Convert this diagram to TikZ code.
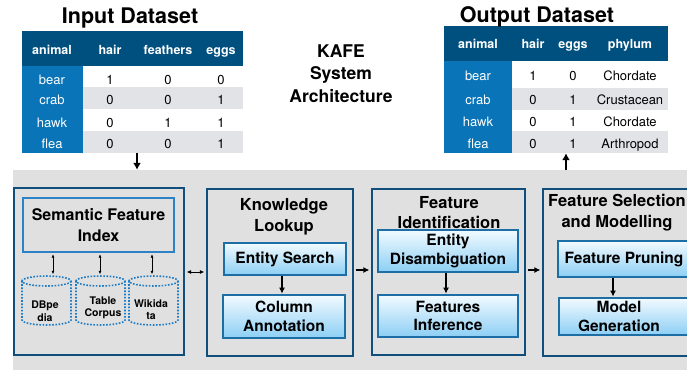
\documentclass[tikz,border=0pt]{standalone}
\usepackage{fontspec}
\setmainfont{TeX Gyre Heros}
\usetikzlibrary{arrows.meta,calc}
\definecolor{hdr}{HTML}{00507F}
\definecolor{lcol}{HTML}{0A74B8}
\definecolor{rowg}{HTML}{E2E3E7}
\definecolor{bgg}{HTML}{E0E0E0}
\definecolor{outb}{HTML}{0F4E7D}
\definecolor{inb}{HTML}{1E6EA6}
\definecolor{sfib}{HTML}{2C82C4}
\definecolor{cylb}{HTML}{1C7BC4}
\definecolor{gtop}{HTML}{F2FAFF}
\definecolor{gbot}{HTML}{8CCFF4}
\begin{document}
\begin{tikzpicture}[x=1pt,y=-1pt,
  ttl/.style={font=\fontsize{21.5}{24}\selectfont\bfseries, inner sep=0, anchor=base},
  hd/.style={font=\fontsize{12.5}{14}\selectfont\bfseries, text=white, inner sep=0, anchor=base},
  lc/.style={font=\fontsize{13}{15}\selectfont, text=white, inner sep=0, anchor=base},
  cell/.style={font=\fontsize{13}{15}\selectfont, inner sep=0, anchor=base},
  outerbox/.style={draw=outb, line width=2.6pt, inner sep=0},
  btitle/.style={font=\fontsize{16.5}{20.5}\selectfont\bfseries, align=center, inner sep=0},
  innerbox/.style={draw=inb, line width=1.3pt, top color=gtop, bottom color=gbot,
     font=\fontsize{15.5}{18.5}\selectfont\bfseries, align=center, inner sep=0},
  cylline/.style={draw=cylb, line width=1.6pt, dash pattern=on 1.6pt off 1.6pt},
  cyltext/.style={font=\fontsize{10.5}{12.5}\selectfont\bfseries, align=center, inner sep=0},
  bigarrow/.style={line width=1.8pt, -{Latex[length=6pt,width=6pt]}},
  tabarrow/.style={line width=1.6pt, -{Latex[length=7pt,width=8pt]}},
  smallboth/.style={line width=0.9pt, {Latex[length=3.5pt,width=3pt]}-{Latex[length=3.5pt,width=3pt]}},
  midboth/.style={line width=1pt, {Latex[length=4.5pt,width=4pt]}-{Latex[length=4.5pt,width=4pt]}}
]
\useasboundingbox (0,0) rectangle (687,369);
\clip (0,0) rectangle (687,369);
\fill[white] (0,0) rectangle (687,369);

% ---------- background ----------
\node[fill=bgg, inner sep=0, minimum width=690, minimum height=202] (bg) at (358,271) {};

% ---------- input table ----------
\node[inner sep=0, minimum width=221, minimum height=122] (intab) at (132.5,92) {};
\fill[hdr] (22,31) rectangle (243,66);
\fill[lcol] (22,66) rectangle (83,153);
\fill[rowg] (83,87) rectangle (243,109);
\fill[rowg] (83,131) rectangle (243,153);
\node[ttl] (intitle) at (130,24) {Input Dataset};
\node[hd] (ih1) at (52,54) {animal};
\node[hd] (ih2) at (110,54) {hair};
\node[hd] (ih3) at (168,54) {feathers};
\node[hd] (ih4) at (221,54) {eggs};
\node[lc] (ia1) at (52,84) {bear};
\node[lc] (ia2) at (52,104) {crab};
\node[lc] (ia3) at (52,127) {hawk};
\node[lc] (ia4) at (52,148) {flea};
\node[cell] (ib1) at (110,84) {1};
\node[cell] (ic1) at (168,84) {0};
\node[cell] (id1) at (221,84) {0};
\node[cell] (ib2) at (110,104) {0};
\node[cell] (ic2) at (168,104) {0};
\node[cell] (id2) at (221,104) {1};
\node[cell] (ib3) at (110,127) {0};
\node[cell] (ic3) at (168,127) {1};
\node[cell] (id3) at (221,127) {1};
\node[cell] (ib4) at (110,148) {0};
\node[cell] (ic4) at (168,148) {0};
\node[cell] (id4) at (221,148) {1};

% ---------- output table ----------
\node[inner sep=0, minimum width=224, minimum height=127] (outtab) at (556,89.5) {};
\fill[hdr] (444,26) rectangle (668,61);
\fill[lcol] (444,61) rectangle (512,153);
\fill[rowg] (512,88) rectangle (668,110);
\fill[rowg] (512,131) rectangle (668,153);
\node[ttl] (outtitle) at (537,23) {Output Dataset};
\node[hd] (oh1) at (478,48.5) {animal};
\node[hd] (oh2) at (533,48.5) {hair};
\node[hd] (oh3) at (573,48.5) {eggs};
\node[hd] (oh4) at (630,48.5) {phylum};
\node[lc] (oa1) at (478,80) {bear};
\node[lc] (oa2) at (478,104) {crab};
\node[lc] (oa3) at (478,126) {hawk};
\node[lc] (oa4) at (478,148) {flea};
\node[cell] (ob1) at (533,80) {1};
\node[cell] (oc1) at (573,80) {0};
\node[cell] (od1) at (630,80) {Chordate};
\node[cell] (ob2) at (533,104) {0};
\node[cell] (oc2) at (573,104) {1};
\node[cell] (od2) at (630,104) {Crustacean};
\node[cell] (ob3) at (533,126) {0};
\node[cell] (oc3) at (573,126) {1};
\node[cell] (od3) at (630,126) {Chordate};
\node[cell] (ob4) at (533,148) {0};
\node[cell] (oc4) at (573,148) {1};
\node[cell] (od4) at (630,148) {Arthropod};

% ---------- title ----------
\node[font=\fontsize{17.5}{22.5}\selectfont\bfseries, align=center, inner sep=0] (kafe) at (341,73.5) {KAFE\\System\\Architecture};

% ---------- outer boxes ----------
\node[outerbox, minimum width=170, minimum height=167] (b1) at (99,271.5) {};
\node[outerbox, minimum width=146, minimum height=167] (b2) at (280,272.5) {};
\node[outerbox, minimum width=153, minimum height=166] (b3) at (448.5,272) {};
\node[outerbox, minimum width=152, minimum height=167] (b4) at (619,272.5) {};

\node[btitle] (b2t) at (284,217) {Knowledge\\Lookup};
\node[btitle] (b3t) at (449,212.5) {Feature\\Identification};
\node[btitle] (b4t) at (617,212.5) {Feature Selection\\and Modelling};

% ---------- semantic feature index ----------
\node[draw=sfib, line width=1.4pt, minimum width=151, minimum height=54, inner sep=0,
      font=\fontsize{16}{20.5}\selectfont\bfseries, align=center] (sfi) at (98.5,225) {Semantic Feature\\Index};

% cylinders
\foreach \n/\cx in {1/46.5, 2/100.5, 3/153.5}{
  \node[inner sep=0, minimum width=49, minimum height=49] (cyl\n) at (\cx,300.5) {};
  \draw[cylline] (\cx,281) ellipse [x radius=24.5, y radius=5];
  \draw[cylline] (\cx-24.5,281) -- (\cx-24.5,320) arc[start angle=180, end angle=0, x radius=24.5, y radius=5] -- (\cx+24.5,281);
}
\node[cyltext] (cyl1t) at (45,311) {DBpe\\dia};
\node[cyltext] (cyl2t) at (103,308) {Table\\Corpus};
\node[cyltext] (cyl3t) at (151,309.5) {Wikida\\ta};

\coordinate (v1) at (53,0);
\coordinate (v2) at (100,0);
\coordinate (v3) at (152,0);
\draw[smallboth, shorten <=1.5pt, shorten >=1.5pt] (v1 |- sfi.south) -- (v1 |- cyl1.north);
\draw[smallboth, shorten <=1.5pt, shorten >=1.5pt] (v2 |- sfi.south) -- (v2 |- cyl2.north);
\draw[smallboth, shorten <=1.5pt, shorten >=1.5pt] (v3 |- sfi.south) -- (v3 |- cyl3.north);

% ---------- inner boxes ----------
\node[innerbox, minimum width=122, minimum height=32] (es) at (285,259) {Entity Search};
\node[innerbox, minimum width=122, minimum height=43] (ca) at (284,316.5) {Column\\Annotation};
\node[innerbox, minimum width=140, minimum height=42] (ed) at (448,251) {Entity\\Disambiguation};
\node[innerbox, minimum width=140, minimum height=42] (fi) at (448,316) {Features\\Inference};
\node[innerbox, minimum width=132, minimum height=36] (fp) at (624,259) {Feature Pruning};
\node[innerbox, minimum width=141, minimum height=37] (mg) at (629.5,316.5) {};
\node[font=\fontsize{15.5}{18.5}\selectfont\bfseries, align=center, inner sep=0] (mgt) at (619,316.5) {Model\\Generation};

% ---------- arrows ----------
\coordinate (ax1) at (137,0);
\coordinate (ax2) at (566,0);
\draw[tabarrow] (ax1 |- intab.south) -- (ax1 |- bg.north);
\draw[tabarrow] (ax2 |- bg.north) -- (ax2 |- outtab.south);

\coordinate (ay1) at (0,272);
\coordinate (ay2) at (0,270);
\draw[midboth, shorten <=1.3pt, shorten >=1.3pt] (b1.east |- ay1) -- (b2.west |- ay1);
\draw[bigarrow, shorten <=1.3pt, shorten >=1.3pt] (b2.east |- ay2) -- (b3.west |- ay2);
\draw[bigarrow, shorten <=1.3pt, shorten >=1.3pt] (b3.east |- ay2) -- (b4.west |- ay2);

\coordinate (ix1) at (282,0);
\coordinate (ix2) at (446,0);
\coordinate (ix3) at (613,0);
\draw[bigarrow, shorten <=0.7pt, shorten >=0.7pt] (ix1 |- es.south) -- (ix1 |- ca.north);
\draw[bigarrow, shorten <=0.7pt, shorten >=0.7pt] (ix2 |- ed.south) -- (ix2 |- fi.north);
\draw[bigarrow, shorten <=0.7pt, shorten >=0.7pt] (ix3 |- fp.south) -- (ix3 |- mg.north);
\end{tikzpicture}
\end{document}
